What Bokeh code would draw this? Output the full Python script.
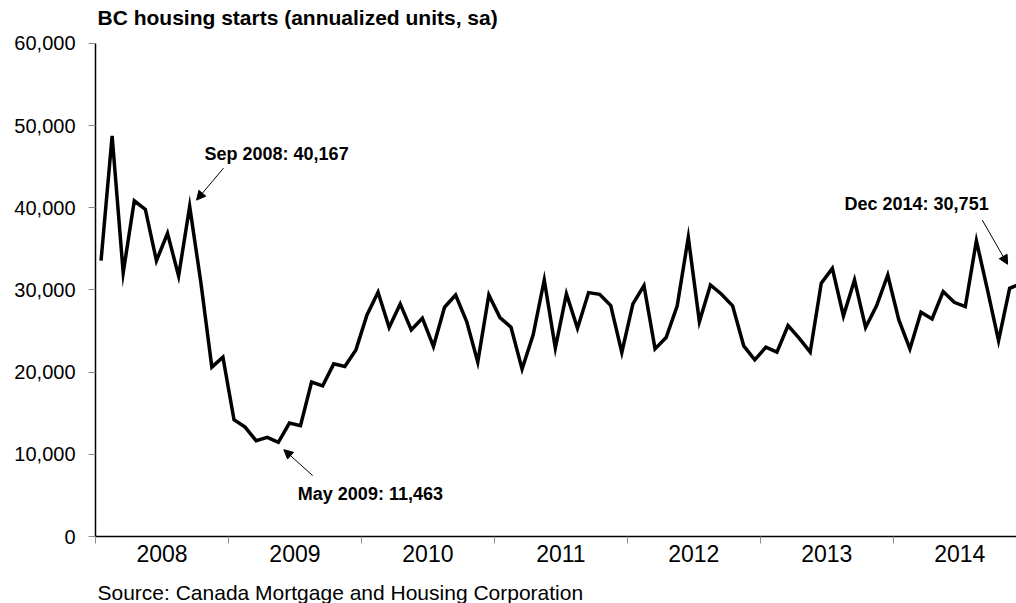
from bokeh.plotting import figure
from bokeh.models import Label, Arrow, NormalHead, FixedTicker, NumeralTickFormatter, Range1d, Title
from bokeh.embed import file_html
from bokeh.resources import INLINE

# ---- data (monthly, Jan 2008 - Dec 2014) ----
years = ["2008", "2009", "2010", "2011", "2012", "2013", "2014"]
starts_2008 = [33560, 48740, 32100, 40850, 39800, 33560, 36890, 31700, 40167, 31000, 20610, 21830]
starts_2009 = [14210, 13320, 11660, 12060, 11463, 13810, 13480, 18800, 18340, 21010, 20690, 22710]
starts_2010 = [26960, 29720, 25430, 28300, 25140, 26560, 23120, 27900, 29390, 26150, 21220, 29390]
starts_2011 = [26640, 25470, 20370, 24530, 31220, 22920, 29510, 25340, 29680, 29470, 28100, 22390]
starts_2012 = [28300, 30520, 22830, 24210, 28060, 36400, 26150, 30610, 29480, 28060, 23200, 21500]
starts_2013 = [23040, 22430, 25670, 24130, 22430, 30810, 32630, 26840, 31220, 25430, 28100, 31820]
starts_2014 = [26360, 22830, 27290, 26480, 29800, 28500, 27980, 35990, 30000, 23840, 30200, 30751]
y_ticks = [0, 10000, 20000, 30000, 40000, 50000, 60000]

series = (starts_2008 + starts_2009 + starts_2010 + starts_2011 +
          starts_2012 + starts_2013 + starts_2014)
month_pos = [i + 0.5 for i in range(len(series))]

FONT = "Liberation Sans"

# frame spans from the canvas top; the extra headroom above 60,000 holds the title
p = figure(width=1016, height=603, output_backend="svg", toolbar_location=None,
           x_range=Range1d(0, 83.12), y_range=Range1d(0, 65222.6),
           min_border_left=95, min_border_right=0, min_border_top=0, min_border_bottom=66)
p.outline_line_color = None
p.grid.visible = False
p.background_fill_color = "white"
p.border_fill_color = "white"

p.line(month_pos, series, line_color="black", line_width=3.5, line_join="miter")

# x axis: year labels centred, ticks at year boundaries
xa = p.xaxis[0]
xa.ticker = FixedTicker(ticks=[12 * i + 6 for i in range(len(years))],
                        minor_ticks=[12 * i for i in range(len(years) + 1)])
xa.major_label_overrides = {12 * i + 6: y for i, y in enumerate(years)}
xa.major_tick_line_color = None
xa.major_tick_out = 7
xa.major_tick_in = 0
xa.minor_tick_out = 7
xa.minor_tick_in = 0
xa.minor_tick_line_color = "#8c8c8c"
xa.axis_line_color = "black"
xa.axis_line_width = 1.5
xa.major_label_standoff = 1
xa.major_label_text_font = FONT
xa.major_label_text_font_size = "23px"
xa.major_label_text_color = "black"
xa.axis_label = " "
xa.axis_label_text_font_size = "10px"
xa.axis_label_standoff = 0

ya = p.yaxis[0]
ya.ticker = FixedTicker(ticks=y_ticks)
ya.bounds = (0, 60000)
ya.formatter = NumeralTickFormatter(format="0,0")
ya.major_tick_out = 7
ya.major_tick_in = 0
ya.major_tick_line_color = "#8c8c8c"
ya.minor_tick_line_color = None
ya.axis_line_color = "black"
ya.axis_line_width = 1.5
ya.major_label_standoff = 13
ya.major_label_text_font = FONT
ya.major_label_text_font_size = "20px"
ya.major_label_text_color = "black"

# title (inside headroom) and source (below the axis)
p.add_layout(Label(x=0.18, y=63100, text="BC housing starts (annualized units, sa)",
                   text_font=FONT, text_font_size="21px", text_font_style="bold",
                   text_baseline="alphabetic", text_align="left", text_color="black"))
p.add_layout(Title(text="Source: Canada Mortgage and Housing Corporation", align="left", offset=2,
                   standoff=0, text_font=FONT, text_font_size="21px", text_font_style="normal",
                   text_color="black"), "below")

# annotations
ann = [
    ("Sep 2008: 40,167", 9.84, 46555, 11.55, 44819, 9.12, 40932),
    ("May 2009: 11,463", 18.26, 5200, 19.6, 7409, 17.0, 10567),
    ("Dec 2014: 30,751", 67.6, 40484, 80.03, 38503, 82.32, 33122),
]
for txt, tx, ty, xs, ys, xe, ye in ann:
    p.add_layout(Label(x=tx, y=ty, text=txt, text_font=FONT, text_font_size="18px",
                       text_font_style="bold", text_baseline="alphabetic",
                       text_align="left", text_color="black"))
    p.add_layout(Arrow(end=NormalHead(size=9, fill_color="black", line_color="black", line_width=1),
                       x_start=xs, y_start=ys, x_end=xe, y_end=ye,
                       line_color="black", line_width=1))

open("out.html", "w").write(file_html(p, INLINE))
